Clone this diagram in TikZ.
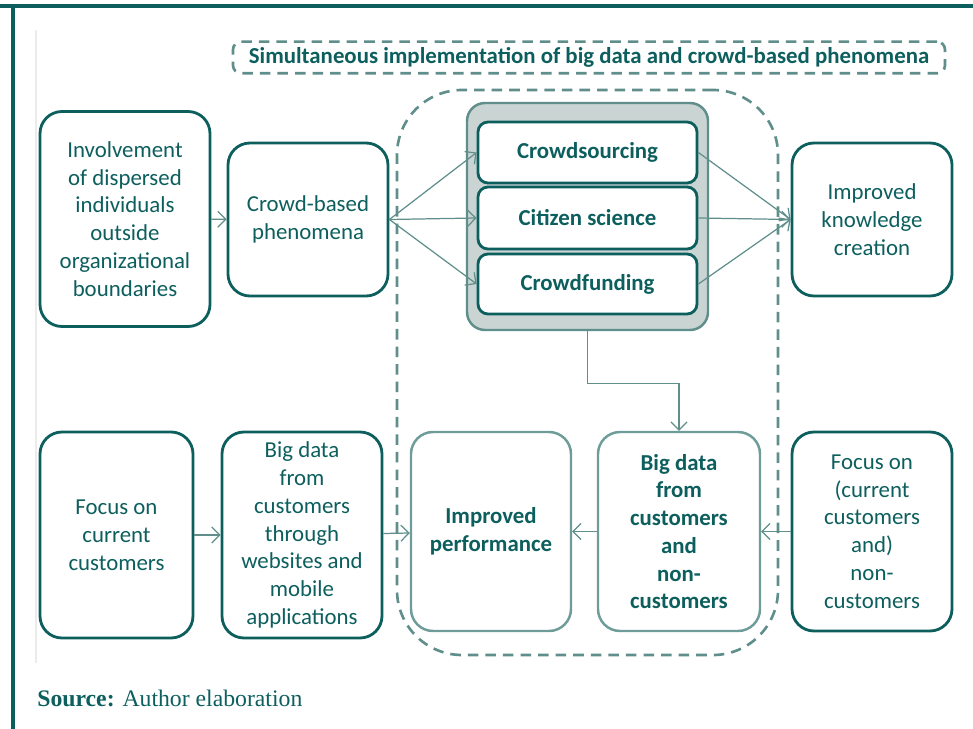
\documentclass[tikz,border=0pt]{standalone}
\usepackage{fontspec}
\setmainfont{Carlito}
\newfontfamily\srcfont{Liberation Serif}
\usetikzlibrary{arrows.meta}

\definecolor{tealDark}{HTML}{0D5F5E}
\definecolor{tealPale}{HTML}{6E9C99}
\definecolor{tealLine}{HTML}{5F8E8B}
\definecolor{greyFill}{HTML}{C9D4D3}

\begin{document}
\begin{tikzpicture}[x=0.02cm, y=-0.02cm,
  every node/.style={font=\fontsize{13}{15.8}\selectfont, text=tealDark, align=center},
  tealBox/.style={rectangle, rounded corners=0.44cm, draw=tealDark, line width=1.6pt, fill=white, inner sep=0pt},
  paleBox/.style={rectangle, rounded corners=0.44cm, draw=tealPale, line width=1.4pt, fill=white, inner sep=0pt, font=\fontsize{13}{15.8}\selectfont\bfseries},
  itemBox/.style={rectangle, rounded corners=0.2cm, draw=tealDark, line width=1.6pt, fill=white, inner sep=0pt, font=\fontsize{13}{15.8}\selectfont\bfseries, minimum width=219*0.02cm},
  dashFrame/.style={rounded corners, draw=tealLine, line width=1.5pt, dash pattern=on 6pt off 4pt},
  flowArrow/.style={draw=tealLine, line width=0.7pt, -{Straight Barb[length=1.6mm,width=3.2mm]}}
]
\useasboundingbox (0,0) rectangle (973,729);

% page frame
\draw[tealDark, line width=2pt] (0,6) -- (13,6) -- (13,729);
\draw[tealDark, line width=2pt] (13,6) -- (973,6);
\draw[black!8, line width=0.6pt] (36,30) -- (36,663);

% dashed frames
\node[dashFrame, rounded corners=0.16cm, minimum width=712*0.02cm, minimum height=31*0.02cm,
  font=\fontsize{13}{15.8}\selectfont\bfseries] (title) at (589,57.5)
  {Simultaneous implementation of big data and crowd-based phenomena};
\node[dashFrame, rounded corners=1.3cm, minimum width=381*0.02cm, minimum height=565*0.02cm] (joint) at (587.5,372.5) {};

% upper row
\node[tealBox, minimum width=170*0.02cm, minimum height=215*0.02cm] (involve) at (125,219)
  {Involvement\\of dispersed\\individuals\\outside\\organizational\\boundaries};
\node[tealBox, minimum width=160*0.02cm, minimum height=153*0.02cm] (crowdPhen) at (308,219.5)
  {Crowd-based\\phenomena};
\node[rectangle, rounded corners=0.36cm, draw=tealLine, line width=1.4pt, fill=greyFill,
  minimum width=241*0.02cm, minimum height=227*0.02cm] (crowdGroup) at (587.5,216.5) {};
\node[itemBox, minimum height=61*0.02cm] (sourcing) at (587.5,152.5) {Crowdsourcing};
\node[itemBox, minimum height=62*0.02cm] (citizen) at (587.5,218) {Citizen science};
\node[itemBox, minimum height=60*0.02cm] (funding) at (587.5,284) {Crowdfunding};
\node[tealBox, minimum width=160*0.02cm, minimum height=153*0.02cm] (knowledge) at (872,219.5)
  {Improved\\knowledge\\creation};

% lower row
\node[tealBox, minimum width=153*0.02cm, minimum height=206*0.02cm] (focusCur) at (116.5,535)
  {Focus on\\current\\customers};
\node[tealBox, minimum width=160*0.02cm, minimum height=206*0.02cm] (dataWeb) at (302,535)
  {Big data\\from\\customers\\through\\websites and\\mobile\\applications};
\node[paleBox, minimum width=160*0.02cm, minimum height=199*0.02cm] (perform) at (491,531.5)
  {Improved\\performance};
\node[paleBox, minimum width=162*0.02cm, minimum height=199*0.02cm] (dataAll) at (679,531.5)
  {Big data\\from\\customers\\and\\non-\\customers};
\node[tealBox, minimum width=160*0.02cm, minimum height=199*0.02cm] (focusNon) at (872,531.5)
  {Focus on\\(current\\customers\\and)\\non-\\customers};

% connectors
\draw[flowArrow] (involve) -- (crowdPhen);
\foreach \item in {sourcing, citizen, funding} {
  \draw[flowArrow] (crowdPhen.east) -- (\item.west);
  \draw[flowArrow] (\item.east) -- (knowledge.west);
}
\draw[flowArrow] (crowdGroup.south) -- ++(0,52) -| (dataAll.north);
\draw[flowArrow] (focusCur) -- (dataWeb);
\draw[flowArrow] (dataWeb) -- (perform);
\draw[flowArrow] (dataAll) -- (perform);
\draw[flowArrow] (focusNon) -- (dataAll);

% source line
\node[anchor=base west, font=\srcfont\fontsize{13.5}{16}\selectfont, inner sep=0pt] (source) at (37,706)
  {\textbf{Source:} Author elaboration};
\end{tikzpicture}
\end{document}
